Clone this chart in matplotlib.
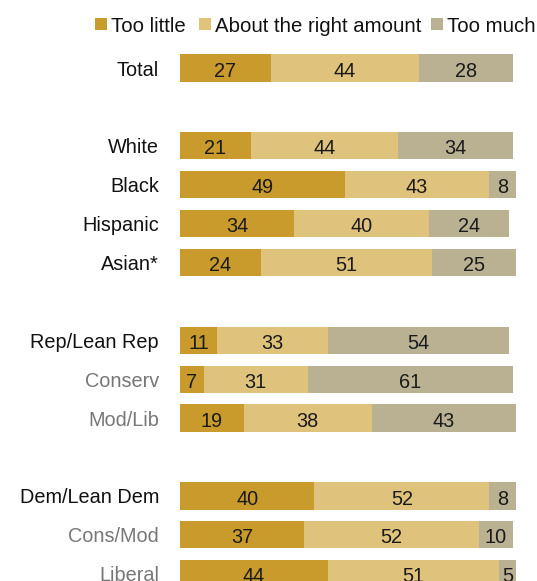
import numpy as np
import matplotlib
matplotlib.use("Agg")
import matplotlib.pyplot as plt
from matplotlib.patches import Rectangle

plt.rcParams['font.family'] = ['Liberation Sans', 'DejaVu Sans']

# Survey shares (%) by group
groups = ["Total",
          "White", "Black", "Hispanic", "Asian*",
          "Rep/Lean Rep", "Conserv", "Mod/Lib",
          "Dem/Lean Dem", "Cons/Mod", "Liberal"]
too_little = [27, 21, 49, 34, 24, 11, 7, 19, 40, 37, 44]
about_right = [44, 44, 43, 40, 51, 33, 31, 38, 52, 52, 51]
too_much = [28, 34, 8, 24, 25, 54, 61, 43, 8, 10, 5]
subgroup = [False, False, False, False, False, False, True, True, False, True, True]
block_sizes = [1, 4, 3, 3]

series_names = ["Too little", "About the right amount", "Too much"]
colors = ["#C99A2C", "#DFC37C", "#BAB192"]

# row positions: one blank row between blocks
rows = []
pos = 0
for n in block_sizes:
    rows.extend(range(pos, pos + n))
    pos += n + 1
rows = np.array(rows)

W, H = 537, 581
fig = plt.figure(figsize=(W / 100, H / 100), dpi=100)
x0, x1 = 180, 516
row0, step = 68, 38.9
ax = fig.add_axes([x0 / W, 0, (x1 - x0) / W, 1])
ax.set_xlim(0, 100)
ax.set_ylim((H - row0) / step, -row0 / step)
ax.axis("off")

fs = 14.3
left = np.zeros(len(groups))
for vals, col in zip([too_little, about_right, too_much], colors):
    vals = np.array(vals)
    ax.barh(rows, vals, left=left, height=0.7, color=col, linewidth=0)
    for y, l, v in zip(rows, left, vals):
        ax.text(l + v / 2, y + 0.03, str(v), ha="center", va="center_baseline",
                fontsize=fs, color="#1a1a1a")
    left += vals

for y, name, sub in zip(rows, groups, subgroup):
    fig.text(159 / W, 1 - (row0 + y * step) / H, name, ha="right",
             va="center_baseline", fontsize=fs,
             color="#777777" if sub else "#111111")

# legend across the top
leg_y = 24
sq = 12
for name, col, sx in zip(series_names, colors, [95, 199, 431]):
    fig.patches.append(Rectangle((sx / W, 1 - (leg_y + sq / 2) / H), sq / W, sq / H,
                                 transform=fig.transFigure, color=col, linewidth=0))
    fig.text((sx + sq + 4) / W, 1 - leg_y / H, name, ha="left",
             va="center_baseline", fontsize=14.7, color="#111111")

fig.savefig("out.png", dpi=100)
